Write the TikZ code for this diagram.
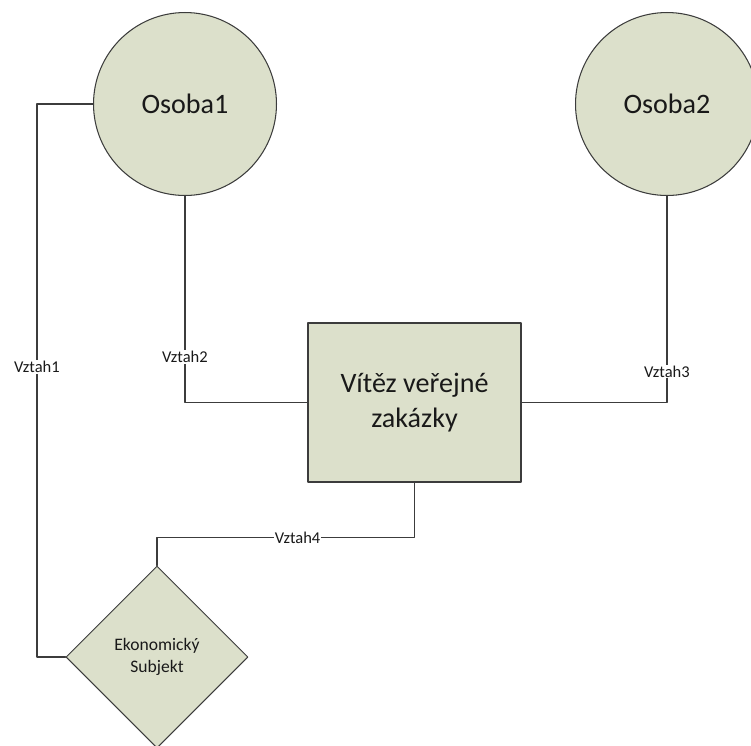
\documentclass[tikz,border=0pt]{standalone}
\usepackage{fontspec}
\setmainfont{Carlito}
\usetikzlibrary{shapes.geometric}

\definecolor{entfill}{RGB}{220,224,203}
\definecolor{edgegray}{RGB}{60,60,60}

\tikzset{
  entity/.style={draw=edgegray,fill=entfill,line width=0.6pt,text=black!90},
  person/.style={entity,circle,minimum size=3.66cm,inner sep=0pt,font=\fontsize{16}{19}\selectfont},
  winner/.style={entity,rectangle,minimum width=4.26cm,minimum height=3.18cm,align=center,font=\fontsize{16}{20}\selectfont},
  subject/.style={entity,diamond,aspect=1,minimum size=3.64cm,inner sep=0pt,align=center,font=\fontsize{10}{12.5}\selectfont},
  rel/.style={draw=edgegray,line width=0.75pt},
  lbl/.style={fill=white,inner sep=0.6pt,text=black!90,font=\fontsize{9.4}{11}\selectfont}
}

\begin{document}
\begin{tikzpicture}[x=0.02cm,y=-0.02cm,line cap=round,line join=round]
  \useasboundingbox (0,0) rectangle (751,745);
  \node[person] (osoba1) at (185,104) {Osoba1};
  \node[person] (osoba2) at (667,104) {Osoba2};
  \node[winner] (vitez) at (414.5,402.5) {Vítěz veřejné\\zakázky};
  \node[subject] (subjekt) at (157,657) {Ekonomický\\Subjekt};

  \draw[rel] (osoba1.west) -- ++(-56,0) |- node[lbl,pos=0.238] {Vztah1} (subjekt.west);
  \draw[rel] (osoba1.south) |- node[lbl,pos=0.39] {Vztah2} (vitez.west);
  \draw[rel] (vitez.east) -| node[lbl,pos=0.575] {Vztah3} (osoba2.south);
  \draw[rel] (vitez.south) -- ++(0,55) -| node[lbl,pos=0.227] {Vztah4} (subjekt.north);
\end{tikzpicture}
\end{document}
